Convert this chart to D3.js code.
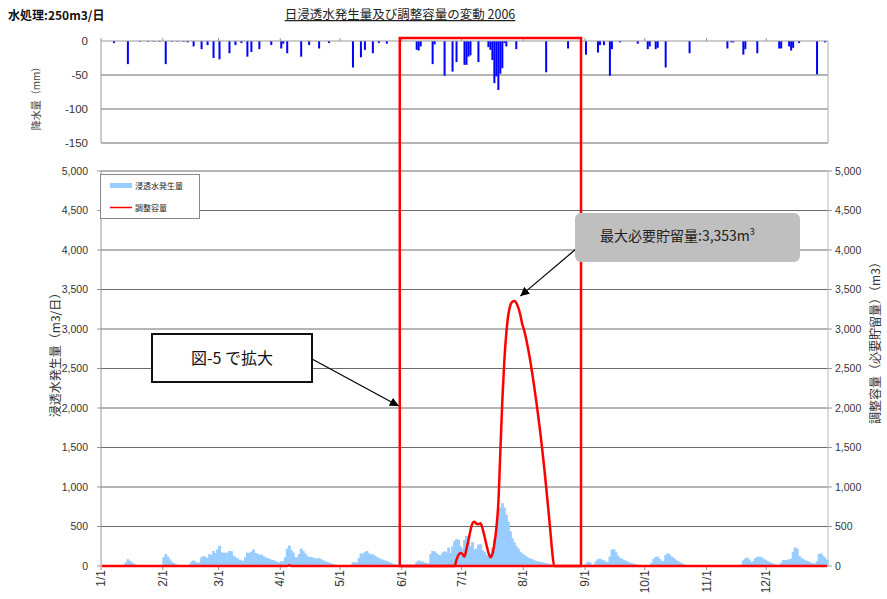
<!DOCTYPE html>
<html>
<head>
<meta charset="utf-8">
<script src="https://cdn.jsdelivr.net/npm/d3@7"></script>
<style>
body { margin: 0; background: #fff; }
svg { display: block; font-family: "Noto Sans CJK JP", "Liberation Sans", sans-serif; }
.tick-label { font-family: "Liberation Sans", Arial, sans-serif; fill: #333; }
</style>
</head>
<body>
<svg id="chart" width="887" height="599"></svg>
<script>
// month tick labels
const monthLabels = ["1/1", "2/1", "3/1", "4/1", "5/1", "6/1", "7/1", "8/1", "9/1", "10/1", "11/1", "12/1"];
const rainTicks = [0, -50, -100, -150];
const volumeTicks = d3.range(0, 5001, 500);

// daily rainfall (mm), only rainy days
const rainfall = [
  ["01-07", 3], ["01-14", 34], ["01-20", 1], ["01-24", 1], ["01-27", 1], ["01-30", 1],
  ["02-02", 34], ["02-05", 1], ["02-08", 1], ["02-11", 1], ["02-13", 2], ["02-16", 8],
  ["02-20", 12], ["02-23", 6], ["02-26", 25], ["03-01", 27], ["03-06", 18], ["03-09", 6],
  ["03-12", 3], ["03-15", 23], ["03-17", 16], ["03-21", 12], ["03-27", 6], ["04-01", 11],
  ["04-02", 4], ["04-04", 18], ["04-11", 23], ["04-15", 6], ["04-20", 11], ["04-25", 3],
  ["05-07", 39], ["05-11", 24], ["05-13", 13], ["05-17", 18], ["05-20", 3], ["05-24", 4],
  ["06-08", 13], ["06-09", 14], ["06-10", 8], ["06-16", 34], ["06-17", 5], ["06-22", 51],
  ["06-26", 45], ["06-28", 31], ["07-02", 35], ["07-03", 35], ["07-04", 23], ["07-05", 21],
  ["07-09", 31], ["07-14", 9], ["07-15", 13], ["07-16", 28], ["07-17", 62], ["07-18", 52],
  ["07-19", 72], ["07-20", 48], ["07-21", 40], ["07-22", 3], ["07-23", 8], ["07-28", 12],
  ["08-12", 46], ["08-23", 11], ["09-01", 20], ["09-07", 17], ["09-08", 6], ["09-10", 6],
  ["09-13", 51], ["09-14", 12], ["09-18", 2], ["09-27", 4], ["10-02", 12], ["10-03", 8],
  ["10-06", 12], ["10-07", 10], ["10-11", 39], ["10-23", 18], ["11-11", 11], ["11-13", 2],
  ["11-14", 2], ["11-19", 20], ["11-20", 12], ["11-26", 18], ["12-07", 11], ["12-08", 11],
  ["12-12", 8], ["12-13", 14], ["12-14", 10], ["12-17", 3], ["12-26", 49], ["12-30", 2]
];

// daily leachate generation (m3/day), one array per month
const genJan = [0,0,0,0,0,0,0,0,0,0,0,0,45,85,65,45,28,14,6,2,0,0,0,0,0,0,0,0,0,0,0];
const genFeb = [110,150,120,85,55,35,22,14,8,5,3,2,1,20,55,70,50,40,45,110,125,110,100,150,140,190,165,210];
const genMar = [255,175,165,170,165,190,185,130,110,95,80,70,65,110,170,165,180,210,165,155,140,145,125,110,100,90,80,75,65,50,40];
const genApr = [60,55,110,220,260,200,170,110,110,150,220,190,160,130,110,115,105,95,95,100,85,70,60,50,40,34,25,18,12,8];
const genMay = [6,4,3,2,2,10,45,50,40,100,160,150,175,190,160,145,150,130,115,100,88,80,70,62,50,40,30,22,14,9,5];
const genJun = [3,2,1,0,0,0,15,50,70,60,55,45,35,30,150,190,185,160,140,135,170,185,175,233,165,250,315,340,330,250];
const genJul = [220,330,380,300,250,300,210,220,270,275,200,180,140,120,160,230,340,470,640,740,795,740,650,560,440,350,300,250,220,180,155];
const genAug = [140,120,106,95,85,72,64,57,52,46,40,36,30,24,20,16,12,9,7,5,4,3,3,2,2,1,1,0,0,0,0];
const genSep = [30,55,45,15,20,60,85,93,80,70,55,45,120,205,212,175,130,105,90,78,66,55,45,36,28,22,16,12,8,5];
const genOct = [3,2,10,40,90,115,119,90,64,60,140,160,145,120,100,80,64,48,35,21,14,9,6,4,3,2,1,1,0,0,0];
const genNov = [0,0,0,0,0,0,0,0,0,0,0,0,0,0,0,0,0,20,70,95,106,80,50,60,100,115,119,110,95,80];
const genDec = [65,52,40,30,22,15,8,40,76,72,76,85,93,180,233,220,127,105,90,75,64,52,42,34,28,60,150,160,130,106,76];

// required storage (m3), days with a non-zero value
const storage = [
  ["04-05", 8],
  ["06-28", 80], ["06-29", 140], ["06-30", 165], ["07-01", 150], ["07-02", 120], ["07-03", 220],
  ["07-04", 330], ["07-05", 450], ["07-06", 540], ["07-07", 560], ["07-08", 535], ["07-09", 530],
  ["07-10", 540], ["07-11", 480], ["07-12", 380], ["07-13", 270], ["07-14", 170], ["07-15", 110],
  ["07-16", 150], ["07-17", 280], ["07-18", 480], ["07-19", 800], ["07-20", 1450], ["07-21", 2100],
  ["07-22", 2600], ["07-23", 2950], ["07-24", 3180], ["07-25", 3300], ["07-26", 3345], ["07-27", 3353],
  ["07-28", 3330], ["07-29", 3270], ["07-30", 3180], ["07-31", 3060], ["08-01", 2980], ["08-02", 2870],
  ["08-03", 2740], ["08-04", 2600], ["08-05", 2440], ["08-06", 2270], ["08-07", 2090], ["08-08", 1900],
  ["08-09", 1700], ["08-10", 1480], ["08-11", 1250], ["08-12", 1000], ["08-13", 740], ["08-14", 470],
  ["08-15", 190]
];

const svg = d3.select("#chart");
const left = 101, right = 828;
const gridColor = "#6a6a6a";

const yearStart = new Date(Date.UTC(2006, 0, 1));
const yearEnd = new Date(Date.UTC(2007, 0, 1));
const dayKey = d3.utcFormat("%m-%d");
const parseDay = s => {
  const [m, d] = s.split("-").map(Number);
  return new Date(Date.UTC(2006, m - 1, d));
};

const days = d3.utcDays(yearStart, yearEnd);
const generation = [genJan, genFeb, genMar, genApr, genMay, genJun, genJul, genAug, genSep, genOct, genNov, genDec].flat();
const rainMap = new Map(rainfall);
const storageMap = new Map(storage);
const daily = days.map((day, i) => ({
  day: day,
  gen: generation[i],
  rain: rainMap.get(dayKey(day)) || 0,
  store: storageMap.get(dayKey(day)) || 0
}));

const x = d3.scaleUtc().domain([yearStart, yearEnd]).range([left, right]);
const yRain = d3.scaleLinear().domain([-150, 0]).range([143, 41]);
const yVol = d3.scaleLinear().domain([0, 5000]).range([566, 171]);
const monthStarts = d3.utcMonths(yearStart, yearEnd);
const nextDay = d => d3.utcDay.offset(d, 1);

// ---- header texts
svg.append("text").attr("x", 8).attr("y", 20)
  .attr("font-size", 12).attr("font-weight", "bold").attr("fill", "#111")
  .text("水処理:250m3/日");

svg.append("text").attr("x", 400).attr("y", 19).attr("text-anchor", "middle")
  .attr("font-size", 12.5).attr("fill", "#222")
  .style("text-decoration", "underline")
  .text("日浸透水発生量及び調整容量の変動 2006");

// ---- rainfall panel
const rain = svg.append("g");
rain.selectAll("line.grid")
  .data(rainTicks.filter(t => t !== 0))
  .enter().append("line")
  .attr("x1", left).attr("x2", right)
  .attr("y1", d => yRain(d)).attr("y2", d => yRain(d))
  .attr("stroke", gridColor);

rain.append("line").attr("x1", left).attr("x2", left)
  .attr("y1", yRain(0)).attr("y2", yRain(-150)).attr("stroke", "#999");
rain.append("line").attr("x1", right).attr("x2", right)
  .attr("y1", yRain(0)).attr("y2", yRain(-150)).attr("stroke", "#aaa");

rain.selectAll("rect.rain")
  .data(daily.filter(d => d.rain > 0))
  .enter().append("rect")
  .attr("x", d => x(d.day))
  .attr("width", d => x(nextDay(d.day)) - x(d.day))
  .attr("y", yRain(0))
  .attr("height", d => yRain(-d.rain) - yRain(0))
  .attr("fill", "#0000ff");

rain.append("line").attr("x1", left).attr("x2", right)
  .attr("y1", yRain(0)).attr("y2", yRain(0)).attr("stroke", "#999");
rain.selectAll("line.mtick")
  .data(monthStarts)
  .enter().append("line")
  .attr("x1", d => x(d)).attr("x2", d => x(d))
  .attr("y1", yRain(0)).attr("y2", yRain(0) - 3)
  .attr("stroke", "#999");

rain.selectAll("text.tick")
  .data(rainTicks)
  .enter().append("text")
  .attr("class", "tick-label")
  .attr("x", 88).attr("y", d => yRain(d)).attr("dy", "0.35em")
  .attr("text-anchor", "end").attr("font-size", 11.5)
  .text(d => d === 0 ? "0" : "-" + Math.abs(d));

rain.append("text")
  .attr("transform", `translate(40, ${(yRain(0) + yRain(-150)) / 2 + 4}) rotate(-90)`)
  .attr("text-anchor", "middle").attr("font-size", 10).attr("fill", "#444")
  .text("降水量（mm）");

// ---- generation / storage panel
const main = svg.append("g");
main.selectAll("line.grid")
  .data(volumeTicks.filter(t => t !== 0))
  .enter().append("line")
  .attr("x1", left).attr("x2", right)
  .attr("y1", d => yVol(d)).attr("y2", d => yVol(d))
  .attr("stroke", gridColor);

main.append("line").attr("x1", left).attr("x2", left)
  .attr("y1", yVol(5000)).attr("y2", yVol(0)).attr("stroke", "#999");
main.append("line").attr("x1", right).attr("x2", right)
  .attr("y1", yVol(5000)).attr("y2", yVol(0)).attr("stroke", "#bbb");

main.selectAll("line.ltick")
  .data(volumeTicks)
  .enter().append("line")
  .attr("x1", left - 4).attr("x2", left)
  .attr("y1", d => yVol(d)).attr("y2", d => yVol(d))
  .attr("stroke", "#999");
main.selectAll("line.rtick")
  .data(volumeTicks)
  .enter().append("line")
  .attr("x1", right).attr("x2", right + 4)
  .attr("y1", d => yVol(d)).attr("y2", d => yVol(d))
  .attr("stroke", "#999");

main.selectAll("rect.gen")
  .data(daily.filter(d => d.gen > 0))
  .enter().append("rect")
  .attr("x", d => x(d.day) - 0.4)
  .attr("width", d => x(nextDay(d.day)) - x(d.day) + 0.9)
  .attr("y", d => yVol(d.gen))
  .attr("height", d => yVol(0) - yVol(d.gen))
  .attr("fill", "#99ccff");

main.append("line").attr("x1", left).attr("x2", right)
  .attr("y1", yVol(0)).attr("y2", yVol(0)).attr("stroke", "#999");
main.selectAll("line.mtick")
  .data(monthStarts)
  .enter().append("line")
  .attr("x1", d => x(d)).attr("x2", d => x(d))
  .attr("y1", yVol(0)).attr("y2", yVol(0) + 4)
  .attr("stroke", "#999");

const storageLine = d3.line()
  .x(d => x(d.day) + 1)
  .y(d => yVol(d.store))
  .curve(d3.curveMonotoneX);
main.append("path")
  .datum(daily)
  .attr("d", storageLine)
  .attr("fill", "none")
  .attr("stroke", "#ff0000")
  .attr("stroke-width", 2.5);

const fmt = d3.format(",");
main.selectAll("text.ltick")
  .data(volumeTicks)
  .enter().append("text")
  .attr("class", "tick-label")
  .attr("x", 88).attr("y", d => yVol(d)).attr("dy", "0.35em")
  .attr("text-anchor", "end").attr("font-size", 10.5)
  .text(d => fmt(d));
main.selectAll("text.rtick")
  .data(volumeTicks)
  .enter().append("text")
  .attr("class", "tick-label")
  .attr("x", 835).attr("y", d => yVol(d)).attr("dy", "0.35em")
  .attr("font-size", 10.5)
  .text(d => fmt(d));

main.selectAll("text.month")
  .data(monthStarts)
  .enter().append("text")
  .attr("class", "tick-label")
  .attr("transform", d => `translate(${x(d) + 4}, 570) rotate(-90)`)
  .attr("text-anchor", "end").attr("font-size", 12)
  .text((d, i) => monthLabels[i]);

main.append("text")
  .attr("transform", `translate(60, 352) rotate(-90)`)
  .attr("text-anchor", "middle").attr("font-size", 12).attr("fill", "#333")
  .text("浸透水発生量（m3/日）");
main.append("text")
  .attr("transform", `translate(880, 340) rotate(-90)`)
  .attr("text-anchor", "middle").attr("font-size", 12).attr("fill", "#333")
  .text("調整容量（必要貯留量）（m3）");

// ---- legend
const legend = svg.append("g");
legend.append("rect").attr("x", 100.5).attr("y", 174.5).attr("width", 99).attr("height", 44)
  .attr("fill", "#fff").attr("stroke", "#888");
legend.append("rect").attr("x", 110).attr("y", 183).attr("width", 22).attr("height", 5).attr("fill", "#99ccff");
legend.append("line").attr("x1", 110).attr("x2", 132).attr("y1", 207.5).attr("y2", 207.5)
  .attr("stroke", "#ff0000").attr("stroke-width", 1.5);
legend.append("text").attr("x", 135).attr("y", 186).attr("dy", "0.35em").attr("font-size", 8).attr("fill", "#222")
  .text("浸透水発生量");
legend.append("text").attr("x", 135).attr("y", 208).attr("dy", "0.35em").attr("font-size", 8).attr("fill", "#222")
  .text("調整容量");

// ---- annotations
const defs = svg.append("defs");
defs.append("marker").attr("id", "head")
  .attr("viewBox", "0 0 10 10").attr("refX", 10).attr("refY", 5)
  .attr("markerWidth", 9).attr("markerHeight", 9).attr("markerUnits", "userSpaceOnUse")
  .attr("orient", "auto")
  .append("path").attr("d", "M0,0 L10,5 L0,10 Z").attr("fill", "#000");

const zoomStart = parseDay("05-31"), zoomEnd = parseDay("08-30");
svg.append("rect")
  .attr("x", x(zoomStart)).attr("y", yRain(0) - 3)
  .attr("width", x(zoomEnd) - x(zoomStart))
  .attr("height", yVol(0) - yRain(0) + 3)
  .attr("fill", "none").attr("stroke", "#ff0000").attr("stroke-width", 2.5);

svg.append("line")
  .attr("x1", 312).attr("y1", 359).attr("x2", x(zoomStart) - 1).attr("y2", yVol(2000) - 2)
  .attr("stroke", "#000").attr("stroke-width", 1.2).attr("marker-end", "url(#head)");
svg.append("rect").attr("x", 152).attr("y", 334).attr("width", 160).attr("height", 48)
  .attr("fill", "#fff").attr("stroke", "#111").attr("stroke-width", 2);
svg.append("text").attr("x", 232).attr("y", 358).attr("dy", "0.35em")
  .attr("text-anchor", "middle").attr("font-size", 16).attr("fill", "#111")
  .text("図-5 で拡大");

const peak = d3.greatest(daily, d => d.store);
svg.append("line")
  .attr("x1", 576).attr("y1", 249).attr("x2", x(peak.day) + 7).attr("y2", yVol(peak.store) - 5)
  .attr("stroke", "#000").attr("stroke-width", 1.2).attr("marker-end", "url(#head)");
svg.append("rect").attr("x", 575).attr("y", 213).attr("width", 225).attr("height", 49)
  .attr("rx", 6).attr("fill", "#bfbfbf");
const peakLabel = svg.append("text").attr("x", 600).attr("y", 241)
  .attr("font-size", 14).attr("fill", "#222");
peakLabel.append("tspan").text("最大必要貯留量:" + fmt(peak.store) + "m");
peakLabel.append("tspan").attr("dy", -6).attr("font-size", 9).text("3");
</script>
</body>
</html>
